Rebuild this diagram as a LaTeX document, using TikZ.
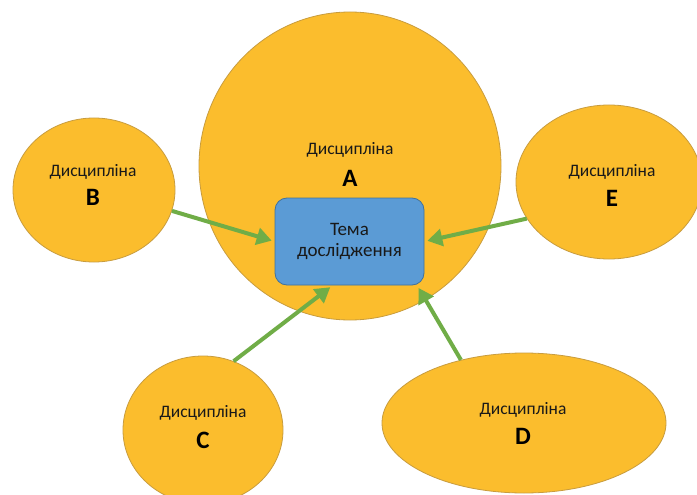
\documentclass[tikz,border=0pt]{standalone}
\usepackage{fontspec}
\setmainfont{Carlito}
\usetikzlibrary{shapes.geometric,arrows.meta}
\definecolor{disc}{RGB}{251,189,45}
\definecolor{discb}{RGB}{200,156,62}
\definecolor{topic}{RGB}{91,155,213}
\definecolor{topicb}{RGB}{65,113,156}
\definecolor{arr}{RGB}{112,173,71}
\definecolor{txt}{RGB}{25,25,25}
\tikzset{
  disc/.style={ellipse, draw=discb, line width=0.8pt, fill=disc, inner sep=0pt},
  disclabel/.style={font=\fontsize{17.5}{20}\selectfont, text=txt, inner sep=0pt},
  discletter/.style={font=\fontsize{25}{28}\selectfont\bfseries, text=black, inner sep=0pt},
  topicbox/.style={rectangle, rounded corners=12pt, draw=topicb, fill=topic, line width=0.8pt,
    minimum width=149pt, minimum height=87pt, align=center, text=txt,
    font=\fontsize{19}{21}\selectfont, inner sep=0pt},
  link/.style={draw=arr, line width=4pt, shorten >=3pt, -{Triangle[length=15pt,width=17pt]}}
}
\begin{document}
\begin{tikzpicture}[x=1pt,y=-1pt]
\clip (0,0) rectangle (697,495);
\fill[white] (0,0) rectangle (697,495);
% discipline ellipses
\node[disc, minimum width=302pt, minimum height=308pt] (A) at (350,166) {};
\node[disc, minimum width=162pt, minimum height=144pt] (B) at (94,190) {};
\node[disc, minimum width=186pt, minimum height=154pt] (E) at (609,182) {};
\node[disc, minimum width=160pt, minimum height=148pt] (C) at (203,430) {};
\node[disc, minimum width=284pt, minimum height=140pt] (D) at (524,423) {};
% labels
\node[disclabel] (Al) at (350,150) {Дисципліна};
\node[discletter] (Ak) at (350,178) {A};
\node[disclabel] (Bl) at (93,172) {Дисципліна};
\node[discletter] (Bk) at (93,197) {B};
\node[disclabel] (El) at (612,172) {Дисципліна};
\node[discletter] (Ek) at (612,198) {E};
\node[disclabel] (Cl) at (203,413) {Дисципліна};
\node[discletter] (Ck) at (203,440) {C};
\node[disclabel] (Dl) at (523,410) {Дисципліна};
\node[discletter] (Dk) at (523,436) {D};
% topic box
\node[topicbox] (T) at (349.5,241.5) {Тема\\дослідження};
% arrows
\draw[link] (B.-15) -- (T.west);
\draw[link] (E.-156) -- (T.east);
\draw[link] (C.66) -- (T.-111);
\draw[link] (D.135) -- (T.-33);
\end{tikzpicture}
\end{document}
